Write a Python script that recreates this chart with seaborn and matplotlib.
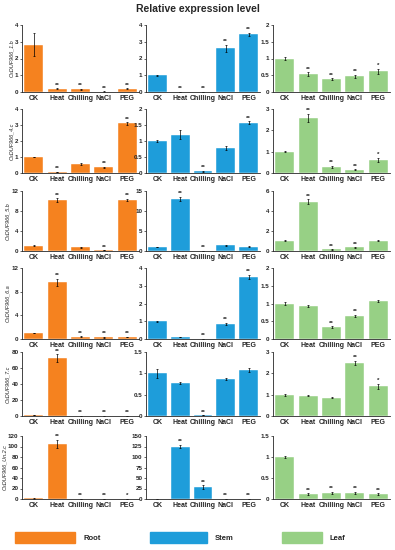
import numpy as np
import pandas as pd
import matplotlib
matplotlib.use('Agg')
import matplotlib.pyplot as plt
import seaborn as sns

tratamientos = ['CK', 'Heat', 'Chilling', 'NaCl', 'PEG']
tejidos = ['Root', 'Stem', 'Leaf']
genes = ['CsDUF966_1.b', 'CsDUF966_4.c', 'CsDUF966_5.b', 'CsDUF966_6.a',
         'CsDUF966_7.c', 'CsDUF966_Un.2.c']
colores = {'Root': '#F5821F', 'Stem': '#1E9DDA', 'Leaf': '#97D085'}

# valores por gen: [raiz, tallo, hoja]
valores = [
    [[2.82, 0.2, 0.17, 0.02, 0.2], [1.0, 0.01, 0.01, 2.6, 3.45], [1.0, 0.53, 0.38, 0.47, 0.62]],
    [[1.0, 0.05, 0.55, 0.35, 3.1], [1.0, 1.2, 0.05, 0.78, 1.57], [1.0, 2.57, 0.3, 0.15, 0.6]],
    [[1.0, 10.1, 0.7, 0.15, 10.2], [1.0, 13.0, 0.1, 1.4, 1.1], [1.0, 4.9, 0.15, 0.35, 1.0]],
    [[1.0, 9.6, 0.4, 0.3, 0.35], [1.0, 0.1, 0.02, 0.85, 3.5], [1.0, 0.93, 0.33, 0.65, 1.07]],
    [[1.0, 72.0, 0.3, 0.3, 0.3], [1.0, 0.78, 0.02, 0.87, 1.07], [1.0, 0.95, 0.85, 2.5, 1.4]],
    [[1.0, 105.0, 0.5, 0.4, 0.4], [0.5, 125.0, 28.0, 0.5, 0.5], [1.0, 0.12, 0.15, 0.15, 0.12]],
]
errores = [
    [[0.68, 0.03, 0.03, 0.01, 0.03], [0.02, 0.0, 0.0, 0.2, 0.1], [0.03, 0.06, 0.03, 0.04, 0.08]],
    [[0.02, 0.01, 0.06, 0.05, 0.08], [0.02, 0.15, 0.02, 0.05, 0.04], [0.02, 0.2, 0.05, 0.03, 0.1]],
    [[0.1, 0.4, 0.05, 0.02, 0.25], [0.05, 0.6, 0.02, 0.08, 0.06], [0.05, 0.25, 0.02, 0.03, 0.05]],
    [[0.05, 0.6, 0.05, 0.05, 0.05], [0.02, 0.01, 0.0, 0.05, 0.1], [0.03, 0.02, 0.03, 0.03, 0.02]],
    [[0.1, 5.0, 0.05, 0.05, 0.05], [0.1, 0.02, 0.0, 0.02, 0.05], [0.05, 0.03, 0.02, 0.1, 0.12]],
    [[0.1, 8.0, 0.1, 0.1, 0.1], [0.1, 4.0, 5.0, 0.1, 0.1], [0.02, 0.02, 0.02, 0.02, 0.02]],
]
estrellas = [
    [['', '**', '**', '**', '**'], ['', '**', '**', '**', '**'], ['', '**', '**', '**', '*']],
    [['', '**', '', '**', '**'], ['', '', '**', '', '**'], ['', '**', '**', '**', '*']],
    [['', '**', '', '**', '**'], ['', '**', '**', '', ''], ['', '**', '**', '**', '']],
    [['', '**', '**', '**', '**'], ['', '', '**', '**', '**'], ['', '', '**', '**', '']],
    [['', '**', '**', '**', '**'], ['', '', '**', '', ''], ['', '', '', '**', '*']],
    [['', '**', '**', '**', '*'], ['', '**', '**', '**', '**'], ['', '**', '**', '**', '**']],
]
limites_y = [[4, 4, 2], [4, 2, 3], [12, 15, 6], [12, 4, 2], [80, 1.5, 3], [120, 150, 1.5]]
ticks_y = [
    [[0, 1, 2, 3, 4], [0, 1, 2, 3, 4], [0, 0.5, 1, 1.5, 2]],
    [[0, 1, 2, 3, 4], [0, 0.5, 1, 1.5, 2], [0, 1, 2, 3]],
    [[0, 4, 8, 12], [0, 5, 10, 15], [0, 2, 4, 6]],
    [[0, 4, 8, 12], [0, 1, 2, 3, 4], [0, 0.5, 1, 1.5, 2]],
    [[0, 20, 40, 60, 80], [0, 0.5, 1, 1.5], [0, 1, 2, 3]],
    [[0, 20, 40, 60, 80, 100, 120], [0, 25, 50, 75, 100, 125, 150], [0, 0.5, 1, 1.5]],
]

sns.set_style('ticks')
plt.rcParams['font.family'] = ['Liberation Sans', 'DejaVu Sans']
plt.rcParams['font.weight'] = 'bold'

fig = plt.figure(figsize=(3.95, 5.5), dpi=100)
W, H = 395, 550
col_x = [(22, 117), (146, 114), (273, 117)]
row_top = [25, 109, 191, 268, 352, 436]
row_cero = [92, 173, 251, 339, 416, 499]

def fmt(v):
    return ('%g' % v)

for i, gen in enumerate(genes):
    alto = row_cero[i] - row_top[i]
    for j, tejido in enumerate(tejidos):
        x0, w = col_x[j]
        ax = fig.add_axes([x0 / W, 1 - row_cero[i] / H, w / W, alto / H])
        df = pd.DataFrame({'Tratamiento': tratamientos, 'Valor': valores[i][j]})
        sns.barplot(data=df, x='Tratamiento', y='Valor', color=colores[tejido],
                    saturation=1, width=0.82, errorbar=None, ax=ax,
                    edgecolor='white', linewidth=0.3)
        ax.errorbar(range(len(tratamientos)), valores[i][j], yerr=errores[i][j],
                    fmt='none', ecolor='black', elinewidth=0.5, capsize=0.8, capthick=0.5)
        ymax = limites_y[i][j]
        for k, s in enumerate(estrellas[i][j]):
            if s:
                ax.text(k, valores[i][j][k] + errores[i][j][k] + ymax * 0.01, s,
                        ha='center', va='bottom', fontsize=4.5, fontweight='bold')
        ax.set_ylim(0, ymax)
        ax.set_yticks(ticks_y[i][j])
        ax.set_yticklabels([fmt(t) for t in ticks_y[i][j]])
        ax.set_xlim(-0.5, 4.5)
        ax.set_xlabel('')
        ax.set_ylabel(gen if j == 0 else '', fontsize=4, fontstyle='italic',
                      fontweight='normal', labelpad=1)
        ax.tick_params(axis='x', length=0, labelsize=5, pad=2)
        ax.tick_params(axis='y', length=1.5, width=0.5, labelsize=4.5, pad=1)
        for lab in ax.get_xticklabels() + ax.get_yticklabels():
            lab.set_fontweight('bold')
        sns.despine(ax=ax)
        ax.spines['left'].set_linewidth(0.6)
        ax.spines['bottom'].set_linewidth(0.6)

fig.text(0.5, 1 - 9 / H, 'Relative expression level', ha='center', va='center',
         fontsize=7.5, fontweight='bold')

# leyenda
leg_x = [(15, 60), (150, 57), (282, 40)]
for j, tejido in enumerate(tejidos):
    x0, w = leg_x[j]
    fig.patches.append(plt.Rectangle((x0 / W, 1 - 543 / H), w / W, 11 / H,
                                     transform=fig.transFigure, color=colores[tejido]))
    fig.text((x0 + w + 8) / W, 1 - 538 / H, tejido, ha='left', va='center',
             fontsize=5.5, fontweight='bold')

fig.savefig('out.png', dpi=100, facecolor='white')
